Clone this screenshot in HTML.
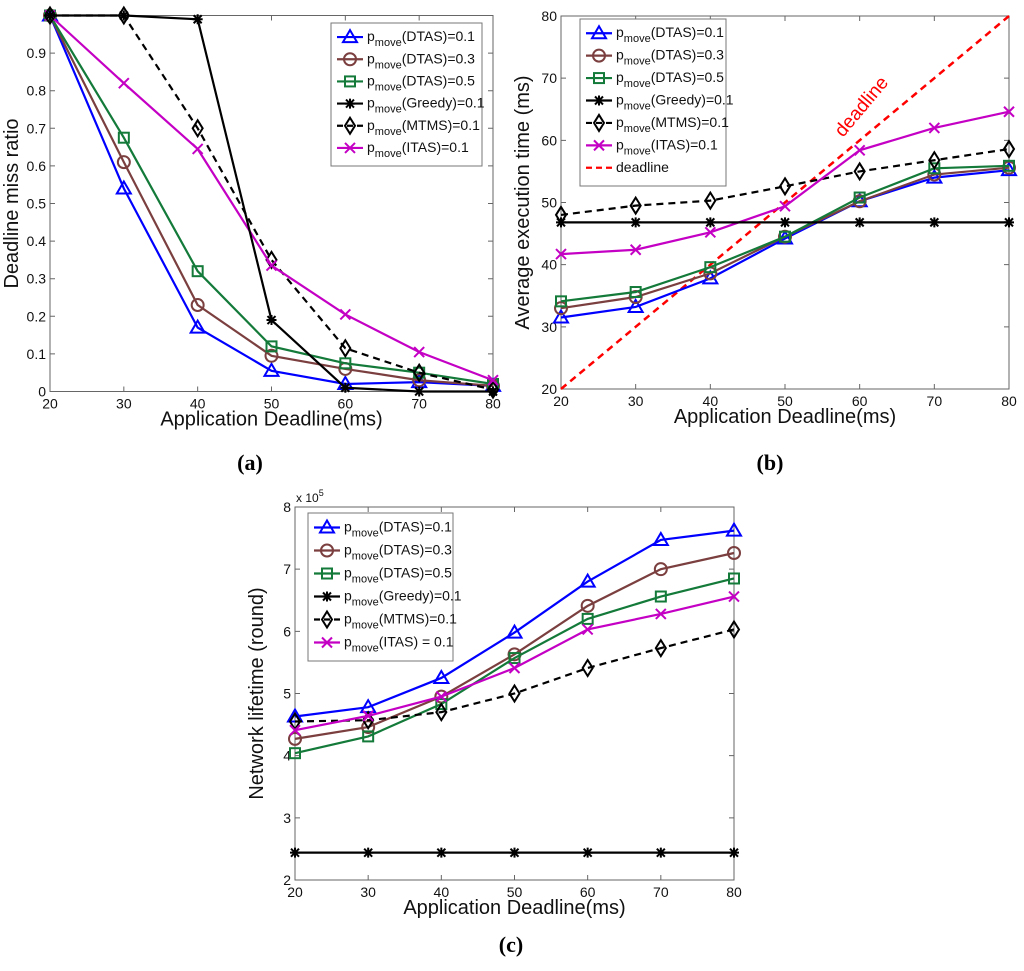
<!DOCTYPE html>
<html><head><meta charset="utf-8"><style>
body{margin:0;background:#fff;}
svg{display:block;font-family:"Liberation Sans",sans-serif;}
</style></head><body>
<svg id="fig" width="1024" height="971" xmlns="http://www.w3.org/2000/svg"></svg>
<script>
const xCats=[20,30,40,50,60,70,80];
const seriesNames=["DTAS)=0.1","DTAS)=0.3","DTAS)=0.5","Greedy)=0.1","MTMS)=0.1","ITAS)=0.1"];
const colors=["#0000ff","#7b3f3f","#137a3a","#000000","#000000","#c400c4"];
const markers=["tri","circ","sq","star","diam","x"];
const dashed=[false,false,false,false,true,false];
// (a) miss ratio
const aDTAS1=[1,0.54,0.17,0.055,0.02,0.025,0.015];
const aDTAS3=[1,0.61,0.23,0.095,0.06,0.03,0.015];
const aDTAS5=[1,0.675,0.32,0.12,0.075,0.05,0.02];
const aGreedy=[1,1,0.99,0.19,0.01,0.0,0.0];
const aMTMS=[1,1,0.7,0.35,0.115,0.05,0.005];
const aITAS=[1,0.82,0.645,0.335,0.205,0.105,0.03];
const aTicks=[0,0.1,0.2,0.3,0.4,0.5,0.6,0.7,0.8,0.9,1];
const aTickLabels=["0","0.1","0.2","0.3","0.4","0.5","0.6","0.7","0.8","0.9",""];
// (b) exec time
const bDTAS1=[31.5,33.2,37.8,44.2,50.2,54,55.2];
const bDTAS3=[33,34.8,38.6,44.5,50.2,54.5,55.6];
const bDTAS5=[34.1,35.6,39.6,44.5,50.8,55.5,55.9];
const bGreedy=[46.8,46.8,46.8,46.8,46.8,46.8,46.8];
const bMTMS=[48,49.5,50.3,52.6,55,56.8,58.6];
const bITAS=[41.7,42.4,45.2,49.4,58.4,62,64.6];
const bDeadline=[20,30,40,50,60,70,80];
const bTicks=[20,30,40,50,60,70,80];
// (c) lifetime x1e5
const cDTAS1=[4.63,4.78,5.25,5.98,6.8,7.47,7.62];
const cDTAS3=[4.27,4.46,4.95,5.63,6.41,7.0,7.26];
const cDTAS5=[4.04,4.31,4.83,5.57,6.2,6.56,6.85];
const cGreedy=[2.44,2.44,2.44,2.44,2.44,2.44,2.44];
const cMTMS=[4.55,4.57,4.7,5.0,5.41,5.73,6.03];
const cITAS=[4.41,4.64,4.95,5.41,6.03,6.28,6.56];
const cTicks=[2,3,4,5,6,7,8];

const NS="http://www.w3.org/2000/svg";
const svg=document.getElementById('fig');
function mk(tag,attrs,parent){const e=document.createElementNS(NS,tag);for(const k in attrs)e.setAttribute(k,attrs[k]);(parent||svg).appendChild(e);return e;}
function marker(g,type,x,y,c,s){
  let e;
  if(type==="tri") e=mk('polygon',{points:`${x},${y-7} ${x-7},${y+5} ${x+7},${y+5}`,fill:'none',stroke:c,'stroke-width':2},g);
  else if(type==="circ") e=mk('circle',{cx:x,cy:y,r:6,fill:'none',stroke:c,'stroke-width':2},g);
  else if(type==="sq") e=mk('rect',{x:x-5,y:y-5,width:10,height:10,fill:'none',stroke:c,'stroke-width':2},g);
  else if(type==="diam") e=mk('polygon',{points:`${x},${y-8} ${x+5},${y} ${x},${y+8} ${x-5},${y}`,fill:'none',stroke:c,'stroke-width':2},g);
  else if(type==="x") e=mk('path',{d:`M${x-5} ${y-5}L${x+5} ${y+5}M${x+5} ${y-5}L${x-5} ${y+5}`,stroke:c,'stroke-width':2},g);
  else e=mk('path',{d:`M${x-5} ${y}L${x+5} ${y}M${x} ${y-5}L${x} ${y+5}M${x-4} ${y-4}L${x+4} ${y+4}M${x+4} ${y-4}L${x-4} ${y+4}`,stroke:c,'stroke-width':2},g);
  
  
}
function chart(id,L,R,T,B,ymin,ymax,yTicks,yLabels,data,ylab,leg,legLabels,extra){
  const g=mk('g',{});
  
  
  const xs=v=>L+(v-20)/60*(R-L);
  const ys=v=>B-(v-ymin)/(ymax-ymin)*(B-T);
  const ax=mk('rect',{x:L,y:T,width:R-L,height:B-T,fill:'#fff',stroke:'#666','stroke-width':1},g);
  
  
  xCats.forEach(v=>{const x=xs(v);
    mk('path',{d:`M${x} ${B}v-5M${x} ${T}v5`,stroke:'#666'},g);
    const t=mk('text',{x:x,y:B+17,'font-size':14,'text-anchor':'middle',fill:'#111'},g);t.textContent=v;
    
    });
  yTicks.forEach((v,i)=>{const y=ys(v);
    mk('path',{d:`M${L} ${y}h5M${R} ${y}h-5`,stroke:'#666'},g);
    const t=mk('text',{x:L-4,y:y+5,'font-size':14,'text-anchor':'end',fill:'#111'},g);t.textContent=yLabels[i];
    
    });
  const xt=mk('text',{x:(L+R)/2,y:B+34,'font-size':20,'text-anchor':'middle',fill:'#111'},g);xt.textContent="Application Deadline(ms)";
  
  
  const yx=L-32,yy=(T+B)/2;
  const yt=mk('text',{x:yx,y:yy,'font-size':20,'text-anchor':'middle',fill:'#111',transform:`rotate(-90 ${yx} ${yy})`},g);yt.textContent=ylab;
  
  
  if(extra) extra(g,xs,ys);
  [0,1,2,4,5,3].forEach(i=>{
    const d=data[i];
    const pl=mk('polyline',{points:d.map((v,j)=>xs(xCats[j])+','+ys(v)).join(' '),fill:'none',stroke:colors[i],'stroke-width':2.2,'stroke-dasharray':dashed[i]?'7,5':'none'},g);
    
    
    d.forEach((v,j)=>marker(g,markers[i],xs(xCats[j]),ys(v),colors[i]));
  });
  const [lx,ly,lw,lh,n]=leg;
  const lg=mk('g',{},g);
  
  
  mk('rect',{x:lx,y:ly,width:lw,height:lh,fill:'#fff',stroke:'#777'},lg);
  const step=(lh-10)/n;
  for(let i=0;i<n;i++){
    const cy=ly+5+step*(i+0.5)-2;
    const c=i<6?colors[i]:'#ff0000';
    mk('line',{x1:lx+6,x2:lx+32,y1:cy,y2:cy,stroke:c,'stroke-width':2.2,'stroke-dasharray':(i===4||i===6)?'6,4':'none'},lg);
    if(i<6) marker(lg,markers[i],lx+19,cy,c);
    const t=mk('text',{x:lx+36,y:cy+4,'font-size':14,fill:'#111'},lg);
    
    
    if(i<6){t.innerHTML=`p<tspan dy="5" font-size="11">move</tspan><tspan dy="-5">(${legLabels[i]}</tspan>`;}
    else t.textContent='deadline';
  }
}
chart('a',50,493,15.5,391.5,0,1,aTicks,aTickLabels,[aDTAS1,aDTAS3,aDTAS5,aGreedy,aMTMS,aITAS],"Deadline miss ratio",[331,23,151,143,6],seriesNames);
chart('b',561,1009,16,389,20,80,bTicks,bTicks.map(String),[bDTAS1,bDTAS3,bDTAS5,bGreedy,bMTMS,bITAS],"Average execution time (ms)",[580,19,146,167,7],seriesNames,(g,xs,ys)=>{
  const p=mk('polyline',{points:xCats.map((v,j)=>xs(v)+','+ys(bDeadline[j])).join(' '),fill:'none',stroke:'#ff0000','stroke-width':2.5,'stroke-dasharray':'7,5'},g);
  
  
  const t=mk('text',{x:0,y:0,'font-size':19,fill:'#ff0000',transform:`translate(843,138) rotate(-50)`},g);t.textContent='deadline';
  
  
});
const cLabels=["DTAS)=0.1","DTAS)=0.3","DTAS)=0.5","Greedy)=0.1","MTMS)=0.1","ITAS) = 0.1"];
chart('c',295,734,507,880,2,8,cTicks,cTicks.map(String),[cDTAS1,cDTAS3,cDTAS5,cGreedy,cMTMS,cITAS],"Network lifetime (round)",[308,513,145,148,6],cLabels);
const ex=mk('text',{x:296,y:502,'font-size':12,fill:'#111'});ex.innerHTML='x 10<tspan dy="-6" font-size="9">5</tspan>';


[["(a)",250,470],["(b)",770,470],["(c)",511,952]].forEach(p=>{
  const t=mk('text',{x:p[1],y:p[2],'font-size':22,'font-weight':'bold','font-family':'Liberation Serif, serif','text-anchor':'middle',fill:'#000'});
  t.innerHTML=`(<tspan font-style="normal">${p[0][1]}</tspan>)`;
  
  
});
</script>
</body></html>
